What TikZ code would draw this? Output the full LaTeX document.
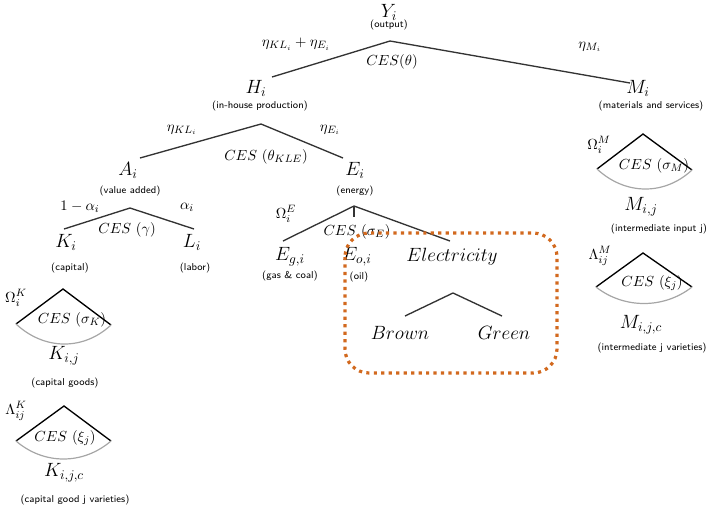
\documentclass[tikz,border=0pt]{standalone}
\usepackage{xcolor}
\definecolor{hiorange}{HTML}{D2691E}
\usepackage{amsmath,amssymb}
\usepackage{tikz}
\usetikzlibrary{calc}

\begin{document}
\begin{tikzpicture}[
    x=0.75pt, y=-0.75pt,
    var/.style={inner sep=1pt, font=\fontsize{13.6}{15}\selectfont},
    note/.style={inner sep=1pt, font=\sffamily\fontsize{7.5}{9}\selectfont},
    wlabel/.style={inner sep=1pt, font=\fontsize{11}{13}\selectfont},
    branch/.style={line width=1pt, color=black!80},
    fanbase/.style={line width=0.9pt, color=black!35},
    hilite/.style={draw=hiorange, line width=2.4pt, dash pattern=on 2.4pt off 3.2pt, rounded corners=18pt}
]
\useasboundingbox (0,0) rectangle (707,508);

% Top level - output
\node[var] (Y) at (389,12) {$Y_i$};
\node[note] (Yn) at (389,25) {(output)};
\coordinate (yTop) at (390,41);
\coordinate (yL) at (272,77);
\coordinate (yR) at (630,83);
\node[wlabel] (etaH) at (296,44) {$\eta_{KL_i}+\eta_{E_i}$};
\node[wlabel] (cesY) at (392,62) {$CES(\theta)$};
\node[wlabel] (etaM) at (590,47) {$\eta_{M_i}$};
\node[var] (H) at (256,88) {$H_i$};
\node[note] (Hn) at (260,106) {(in-house production)};
\node[var] (M) at (638,88) {$M_i$};
\node[note] (Mn) at (651,106) {(materials and services)};
\draw[branch] (yL) -- (yTop) -- (yR);

% In-house production
\coordinate (hTop) at (261,124);
\coordinate (hL) at (140,158);
\coordinate (hR) at (343,158);
\node[wlabel] (etaA) at (182,130) {$\eta_{KL_i}$};
\node[wlabel] (etaE) at (330,130) {$\eta_{E_i}$};
\node[wlabel] (cesH) at (266,157) {$CES\ (\theta_{KLE})$};
\node[var] (A) at (128,170) {$A_i$};
\node[note] (An) at (130,191) {(value added)};
\node[var] (E) at (355,170) {$E_i$};
\node[note] (En) at (355,191) {(energy)};
\draw[branch] (hL) -- (hTop) -- (hR);

% Value added
\coordinate (aTop) at (130,208);
\coordinate (aL) at (64,229);
\coordinate (aR) at (194,229);
\node[wlabel] (alK) at (80,207) {$1-\alpha_i$};
\node[wlabel] (alL) at (187,207) {$\alpha_i$};
\node[wlabel] (cesA) at (127,230) {$CES\ (\gamma)$};
\node[var] (K) at (66,242) {$K_i$};
\node[note] (Kn) at (70,268) {(capital)};
\node[var] (L) at (192,242) {$L_i$};
\node[note] (Ln) at (195,268) {(labor)};
\draw[branch] (aL) -- (aTop) -- (aR);

% Energy
\coordinate (eTop) at (354,206);
\coordinate (eL) at (283,241);
\coordinate (eR) at (450,241);
\coordinate (eMid) at (354,217);
\node[wlabel] (omE) at (286,214) {$\Omega_i^E$};
\node[wlabel] (cesE) at (357,232) {$CES\ (\sigma_E)$};
\node[var] (Eg) at (290,257) {$E_{g,i}$};
\node[note] (Egn) at (290,276) {(gas \& coal)};
\node[var] (Eo) at (357,257) {$E_{o,i}$};
\node[note] (Eon) at (359,277) {(oil)};
\node[var] (El) at (452,257) {$Electricity$};
\draw[branch] (eL) -- (eTop) -- (eR);
\draw[branch] (eTop) -- (eMid);

% Electricity split
\coordinate (bTop) at (453,293);
\coordinate (bL) at (405,316);
\coordinate (bR) at (502,316);
\node[var] (Br) at (400,333) {$Brown$};
\node[var] (Gr) at (504,333) {$Green$};
\draw[branch] (bL) -- (bTop) -- (bR);
\draw[hilite] (345,233) rectangle (557,373);

% Materials nest
\coordinate (mTop) at (643,134);
\coordinate (mL) at (597,169);
\coordinate (mR) at (692,170);
\node[wlabel] (omM) at (599,145) {$\Omega_i^M$};
\node[wlabel] (cesM) at (654,166) {$CES\ (\sigma_M)$};
\draw[branch, color=black] (mL) -- (mTop) -- (mR);
\draw[fanbase] (mL) .. controls +(28,26) and +(-28,26) .. (mR);
\node[var] (Mij) at (641,207) {$M_{i,j}$};
\node[note] (Mijn) at (659,229) {(intermediate input j)};
\coordinate (mvTop) at (643,253);
\coordinate (mvL) at (596,287);
\coordinate (mvR) at (692,287);
\node[wlabel] (laM) at (600,256) {$\Lambda_{ij}^M$};
\node[wlabel] (cesMv) at (652,283) {$CES\ (\xi_j)$};
\draw[branch, color=black] (mvL) -- (mvTop) -- (mvR);
\draw[fanbase] (mvL) .. controls +(28,22) and +(-28,22) .. (mvR);
\node[var] (Mijc) at (641,325) {$M_{i,j,c}$};
\node[note] (Mijcn) at (652,348) {(intermediate j varieties)};

% Capital nest
\coordinate (kTop) at (63,289);
\coordinate (kL) at (16,324);
\coordinate (kR) at (111,325);
\node[wlabel] (omK) at (16,298) {$\Omega_i^K$};
\node[wlabel] (cesK) at (72,320) {$CES\ (\sigma_K)$};
\draw[branch, color=black] (kL) -- (kTop) -- (kR);
\draw[fanbase] (kL) .. controls +(28,26) and +(-28,26) .. (kR);
\node[var] (Kij) at (64,356) {$K_{i,j}$};
\node[note] (Kijn) at (65,383) {(capital goods)};
\coordinate (kvTop) at (64,406);
\coordinate (kvL) at (16,441);
\coordinate (kvR) at (111,441);
\node[wlabel] (laK) at (16,411) {$\Lambda_{ij}^K$};
\node[wlabel] (cesKv) at (65,438) {$CES\ (\xi_j)$};
\draw[branch, color=black] (kvL) -- (kvTop) -- (kvR);
\draw[fanbase] (kvL) .. controls +(28,24) and +(-28,24) .. (kvR);
\node[var] (Kijc) at (64,473) {$K_{i,j,c}$};
\node[note] (Kijcn) at (75,500) {(capital good j varieties)};

\end{tikzpicture}
\end{document}
